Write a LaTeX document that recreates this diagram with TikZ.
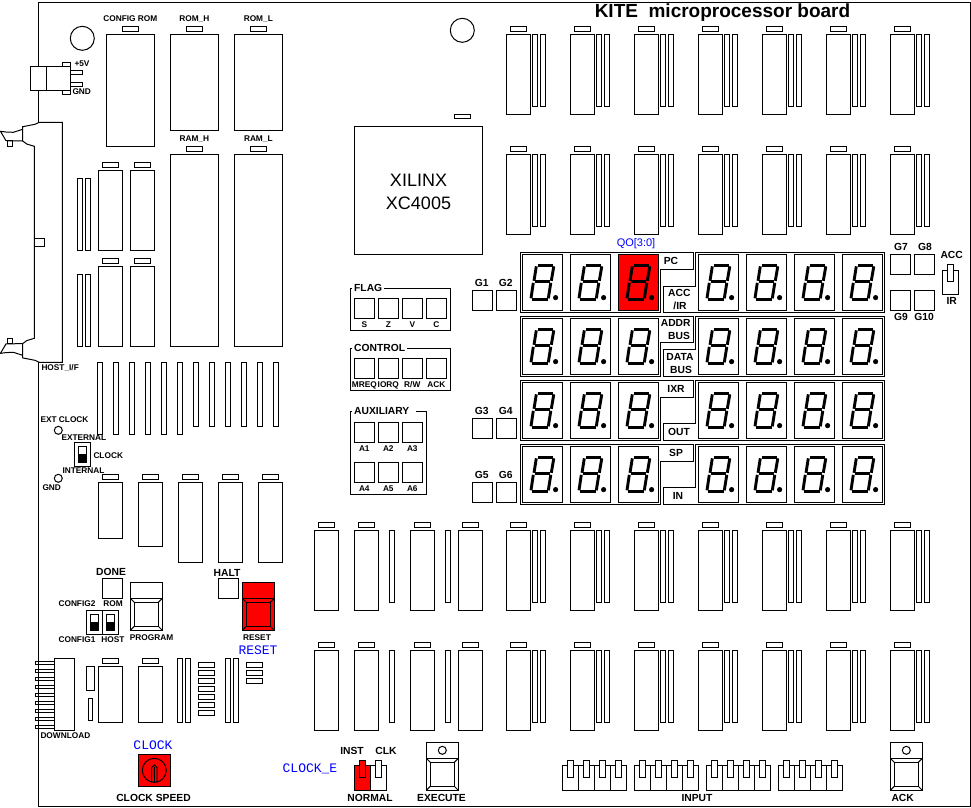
\documentclass[tikz,border=0pt]{standalone}
\usepackage{fontspec}
\setmainfont{Liberation Sans}
\newfontfamily\monofam{Liberation Mono}

% chip body with its notch above
\newcommand{\chip}[4]{%
  \draw (#1,#2) rectangle ++(#3,#4);
  \draw ({#1+#3/2-8},#2-8) rectangle ++(16,5.3);
}
\newcommand{\strip}[3]{\draw (#1,#2) rectangle ++(5.4,#3);}
\newcommand{\lamp}[2]{\draw (#1,#2) rectangle ++(20,20);}
\newcommand{\stripchip}[2]{%
  \chip{#1}{#2}{24}{80}
  \strip{#1+26}{#2}{72}
  \strip{#1+34}{#2}{72}
}
\newcommand{\pushbtn}[3]{%
  \draw[fill=#3] (#1,#2) rectangle ++(32,48);
  \draw (#1,#2+16) -- ++(32,0);
  \draw (#1+4,#2+20) rectangle ++(24,24);
  \draw (#1,#2+16) -- ++(4,4) (#1+32,#2+16) -- ++(-4,4)
        (#1,#2+48) -- ++(4,-4) (#1+32,#2+48) -- ++(-4,-4);
}
\newcommand{\toggle}[3]{\draw[fill=#3] (#1,#2) rectangle ++(5.7,17);}
\newcommand{\slide}[2]{%
  \draw (#1,#2) rectangle ++(8,16);
  \fill (#1,#2+8) rectangle ++(8,8);
}
\newcommand{\digit}[3]{%
  \begin{scope}[shift={(#1,#2)}]
    \draw[fill=#3] (0,0) rectangle (40,56);
    \foreach \xa/\ya/\xb/\yb in {15.2/10.8/30.8/10.8, 12.2/27.5/27.8/27.5, 9.2/45/25.3/45,
                                 14/12/11.7/26.5, 31.5/12/29/26.5, 11/28.5/8.7/44, 28.5/28.5/26/44}
      \draw[line width=2.9pt] (\xa,\ya) -- (\xb,\yb);
    \fill (33.3,43.3) circle (2.6);
  \end{scope}
}
% rows of the display: top edge, notch on the left part, notch on the right part
\newcommand{\dispframe}[3]{%
  \draw (520.3,#1) -- (693.5,#1) -- (693.5,#2) -- (660.3,#2) -- (660.3,#1+60) -- (520.3,#1+60) -- cycle;
  \draw (695.8,#1) -- (884.3,#1) -- (884.3,#1+60) -- (663.3,#1+60) -- (663.3,#3) -- (695.8,#3) -- cycle;
}

\begin{document}
\begin{tikzpicture}[x=1pt,y=-1pt,line width=1pt,
    smalltxt/.style={inner sep=0pt,font=\fontsize{8.3}{8.3}\selectfont\bfseries},
    bigtxt/.style={inner sep=0pt,font=\fontsize{10.3}{10.3}\selectfont\bfseries},
    bluetxt/.style={inner sep=0pt,text=blue,font=\monofam\fontsize{13}{13}\selectfont}]
  \useasboundingbox (0,0) rectangle (971,807);

  % board edge
  \draw (38.3,66.3) -- (38.3,2.5) -- (970,2.5) -- (970,806.3) -- (38.3,806.3) -- (38.3,362.3);
  \draw (38.3,90.3) -- (38.3,122.3);

  % power connector
  \draw (30.3,66.3) rectangle (70.3,90.3) (46.3,66.3) -- (46.3,90.3);
  \draw (70.3,70.3) rectangle (82.7,74.7) (70.3,82.3) rectangle (82.7,86.3);
  \draw (62.3,62.3) rectangle (70.3,66.3) (62.3,90.3) rectangle (70.3,94.3);
  \draw (82.3,38.3) circle (12) (462.3,30.3) circle (12);
  \node[smalltxt] (plusv) at (82,64) {+5V};
  \node[smalltxt,anchor=west] (gndv) at (72,92) {GND};

  % host connector
  \draw (34.3,146.3) -- (26.7,144) -- (22.7,141) -- (22.7,126.7) -- (35,124.3) -- (39.3,122.3) -- (62.3,122.3)
     -- (62.3,362.3) -- (39.3,362.3) -- (35,360.3) -- (22.7,357.9) -- (22.7,343.6) -- (26.7,340.6) -- (34.3,338.3) -- cycle;
  \draw (22.7,129.3) -- (13.3,132.3) -- (6,132) -- (0.5,131.3) -- (6,140.7) -- (22.7,141);
  \draw (22.7,355.3) -- (13.3,352.3) -- (6,352.6) -- (0.5,353.3) -- (6,343.9) -- (22.7,343.6);
  \draw (7.3,140.7) rectangle (12.3,146.3) (7.3,338.3) rectangle (12.3,343.9);
  \draw (34.3,238.3) rectangle (44.3,246.3);
  \node[smalltxt,anchor=west] (hostif) at (41,368) {HOST\_I/F};

  % memories
  \chip{106.3}{34.3}{48}{112}
  \chip{170.3}{34.3}{48}{96}
  \chip{234.3}{34.3}{48}{96}
  \chip{170.3}{154.3}{48}{192}
  \chip{234.3}{154.3}{48}{192}
  \node[smalltxt] (cfgrom) at (130.3,19) {CONFIG ROM};
  \node[smalltxt] (romh) at (194.3,19) {ROM\_H};
  \node[smalltxt] (roml) at (258.3,19) {ROM\_L};
  \node[smalltxt] (ramh) at (194.3,139.3) {RAM\_H};
  \node[smalltxt] (raml) at (258.3,139.3) {RAM\_L};

  % chips beside the host connector
  \foreach \cx in {98.3,130.3} {
    \chip{\cx}{170.3}{24}{80}
    \chip{\cx}{266.3}{24}{80}
  }
  \foreach \cx in {77.3,85.3} {
    \strip{\cx}{178.3}{72}
    \strip{\cx}{274.3}{72}
  }

  % long strips
  \foreach \i in {0,...,5} {\strip{97.3+16*\i}{362.3}{72}}
  \foreach \i in {6,...,11} {\strip{97.3+16*\i}{362.3}{64}}

  % clock source
  \draw (74.3,442.3) rectangle (90.3,466.3);
  \slide{78.3}{446.3}
  \draw (58.3,430.3) circle (4) (58.3,478.3) circle (4);
  \node[smalltxt,anchor=west] (extclk) at (40,420) {EXT CLOCK};
  \node[smalltxt,anchor=west] (extern) at (61,437.7) {EXTERNAL};
  \node[smalltxt,anchor=west] (clksw) at (93,456) {CLOCK};
  \node[smalltxt,anchor=west] (intern) at (62,471) {INTERNAL};
  \node[smalltxt,anchor=west] (gndclk) at (42,488) {GND};

  % row under the long strips
  \chip{98.3}{482.3}{24}{56}
  \chip{138.3}{482.3}{24}{64}
  \foreach \cx in {178.3,218.3,258.3} {\chip{\cx}{482.3}{24}{80}}

  % configuration corner
  \lamp{102.3}{578.3}
  \lamp{218.3}{578.3}
  \node[bigtxt] (done) at (111,572) {DONE};
  \node[bigtxt] (halt) at (227,573) {HALT};
  \pushbtn{130.3}{582.3}{white}
  \pushbtn{242.3}{582.3}{red}
  \node[smalltxt] (prog) at (151.5,638) {PROGRAM};
  \node[smalltxt] (resetb) at (257,638) {RESET};
  \node[bluetxt] (resetn) at (258,650) {RESET};
  \draw (86.3,610.3) rectangle (118.3,634.3) (102.3,610.3) -- (102.3,634.3);
  \slide{90.3}{614.3}
  \slide{106.3}{614.3}
  \node[smalltxt] (cfgtwo) at (77,604) {CONFIG2};
  \node[smalltxt] (romsw) at (113,604) {ROM};
  \node[smalltxt] (cfgone) at (77,640) {CONFIG1};
  \node[smalltxt] (hostsw) at (113,640) {HOST};

  % download
  \foreach \i in {0,...,8} {\draw (35.3,661.3+8*\i) rectangle (54.3,664+8*\i);}
  \draw (54.3,658.3) rectangle (74.3,730.3);
  \node[smalltxt,anchor=west] (dload) at (40,736) {DOWNLOAD};
  \draw (86.3,666.3) rectangle (94.3,690.3) (88.3,698.3) rectangle (92.3,720.3);
  \chip{98.3}{666.3}{24}{56}
  \chip{138.3}{666.3}{24}{56}
  \foreach \cx in {177.3,185.3,225.3,233.3} {\strip{\cx}{658.3}{64}}
  \foreach \i in {0,...,6} {\draw (198.3,662.3+8*\i) rectangle ++(16,5);}
  \foreach \i in {0,1,2} {\draw (246.3,662.3+8*\i) rectangle ++(16,5);}

  % clock speed
  \node[bluetxt] (clockn) at (153,745) {CLOCK};
  \draw[fill=red] (138.3,754.3) rectangle (170.3,786.3);
  \draw (154.3,770.3) circle (12);
  \draw (151.7,783) -- (151.7,767.5) -- (154.3,765) -- (157,767.5) -- (157,783) (154.3,767) -- (154.3,783);
  \node[bigtxt] (clkspeed) at (153.5,798) {CLOCK SPEED};

  % normal switch
  \node[bluetxt] (clocke) at (310,768.7) {CLOCK\_E};
  \draw[fill=red] (354.3,765.7) rectangle (370.3,790.3);
  \draw (370.3,765.7) rectangle (386.3,790.3);
  \toggle{359.7}{760.3}{red}
  \toggle{375.7}{760.3}{white}
  \node[bigtxt] (inst) at (352,751) {INST};
  \node[bigtxt] (clkn) at (386,751) {CLK};
  \node[bigtxt] (normal) at (370,798) {NORMAL};

  % execute and ack
  \pushbtn{426.3}{742.3}{white}
  \pushbtn{890.3}{742.3}{white}
  \draw (442.3,750.3) circle (4) (906.3,750.3) circle (4);
  \node[bigtxt] (exec) at (441.5,798) {EXECUTE};
  \node[bigtxt] (ackb) at (902.7,798) {ACK};

  % input switches
  \foreach \bx in {562.3,634.3,706.3,778.3}
    \foreach \i in {0,...,3} {
      \draw ({\bx+16*\i},765.7) rectangle ++(16,24.6);
      \toggle{\bx+16*\i+5}{760.3}{white}
    }
  \node[bigtxt] (input) at (697,798) {INPUT};

  % xilinx
  \draw (354.3,126.3) rectangle (482.3,254.3);
  \draw (454.3,114) rectangle (470.3,118.6);
  \node[inner sep=0pt,align=center,font=\fontsize{18}{23}\selectfont] (fpga) at (418.5,192) {XILINX\\XC4005};

  % top and bottom rows
  \foreach \cx in {506.3,570.3,...,890.3} {
    \stripchip{\cx}{34.3}
    \stripchip{\cx}{154.3}
    \stripchip{\cx}{530.3}
    \stripchip{\cx}{650.3}
  }
  \foreach \ry in {530.3,650.3} {
    \chip{314.3}{\ry}{24}{80}
    \chip{354.3}{\ry}{24}{80}
    \strip{389.3}{\ry}{72}
    \chip{410.3}{\ry}{24}{80}
    \strip{445.3}{\ry}{72}
    \chip{458.3}{\ry}{24}{80}
  }
  \node[inner sep=0pt,font=\fontsize{19}{19}\selectfont\bfseries] (title) at (722.5,13) {KITE\ \ microprocessor board};

  % status lamps
  \draw (352.3,288.3) -- (350.3,288.3) -- (350.3,330.3) -- (450.3,330.3) -- (450.3,288.3) -- (384,288.3);
  \foreach \i/\tx in {0/S,1/Z,2/V,3/C} {
    \lamp{354.3+24*\i}{298.3}
    \node[smalltxt] (flag\tx) at (364.3+24*\i,325) {\tx};
  }
  \node[bigtxt,anchor=west] (flag) at (353.7,288.3) {FLAG};

  \draw (352.3,348.3) -- (350.3,348.3) -- (350.3,390.3) -- (450.3,390.3) -- (450.3,348.3) -- (406.7,348.3);
  \foreach \i in {0,...,3} {\lamp{354.3+24*\i}{358.3}}
  \node[smalltxt] (ctlmreq) at (364.3,385) {MREQ};
  \node[smalltxt] (ctliorq) at (388.3,385) {IORQ};
  \node[smalltxt] (ctlrw) at (412.3,385) {R/W};
  \node[smalltxt] (ctlack) at (436.3,385) {ACK};
  \node[bigtxt,anchor=west] (control) at (353.7,348.3) {CONTROL};

  \draw (352.3,411) -- (350.3,411) -- (350.3,494.3) -- (426.3,494.3) -- (426.3,411) -- (416.3,411);
  \foreach \i in {0,1,2} {
    \lamp{354.3+24*\i}{422.3}
    \lamp{354.3+24*\i}{462.3}
  }
  \foreach \i/\tx in {0/A1,1/A2,2/A3} {\node[smalltxt] (aux\tx) at (364.3+24*\i,449) {\tx};}
  \foreach \i/\tx in {0/A4,1/A5,2/A6} {\node[smalltxt] (aux\tx) at (364.3+24*\i,489) {\tx};}
  \node[bigtxt,anchor=west] (auxil) at (353.7,411) {AUXILIARY};

  % G lamps
  \foreach \gy/\ga/\gb in {290.3/G1/G2,418.3/G3/G4,482.3/G5/G6} {
    \lamp{472.3}{\gy}
    \lamp{496.3}{\gy}
    \node[bigtxt] (lamp\ga) at (481.7,\gy-7.3) {\ga};
    \node[bigtxt] (lamp\gb) at (505.8,\gy-7.3) {\gb};
  }
  \foreach \lx in {890.3,914.3} {
    \lamp{\lx}{254.3}
    \lamp{\lx}{290.3}
  }
  \node[bigtxt] (lampG7) at (901,247) {G7};
  \node[bigtxt] (lampG8) at (925,247) {G8};
  \node[bigtxt] (lampG9) at (901,317.3) {G9};
  \node[bigtxt] (lampG10) at (924,317.3) {G10};

  % acc/ir switch
  \draw (942.3,270.3) rectangle (958.3,294.3);
  \toggle{947.3}{264.3}{white}
  \node[bigtxt] (accsw) at (951.7,255) {ACC};
  \node[bigtxt] (irsw) at (951.7,301) {IR};

  % display
  \dispframe{252.3}{269.3}{286.7}
  \dispframe{316.3}{342.3}{349.8}
  \dispframe{380.3}{397.3}{423.3}
  \dispframe{444.3}{461.3}{487.3}
  \foreach \ry in {254.3,318.3,382.3,446.3}
    \foreach \cx in {522.3,570.3,618.3,698.3,746.3,794.3,842.3} {
      \digit{\cx}{\ry}{white}
    }
  \digit{618.3}{254.3}{red}
  \node[inner sep=0pt,text=blue,font=\fontsize{11}{11}\selectfont] (qo) at (636,244) {QO[3:0]};
  \node[bigtxt] (pc) at (671,261) {PC};
  \node[bigtxt] (acc) at (679.3,292.7) {ACC};
  \node[bigtxt] (slashir) at (680,306) {/IR};
  \node[bigtxt] (addr) at (675.7,323.3) {ADDR};
  \node[bigtxt] (addrbus) at (679,336) {BUS};
  \node[bigtxt] (data) at (680,357) {DATA};
  \node[bigtxt] (databus) at (681,370) {BUS};
  \node[bigtxt] (ixr) at (676,389) {IXR};
  \node[bigtxt] (outp) at (679,432) {OUT};
  \node[bigtxt] (sp) at (676,453) {SP};
  \node[bigtxt] (inp) at (678,496) {IN};
\end{tikzpicture}
\end{document}
